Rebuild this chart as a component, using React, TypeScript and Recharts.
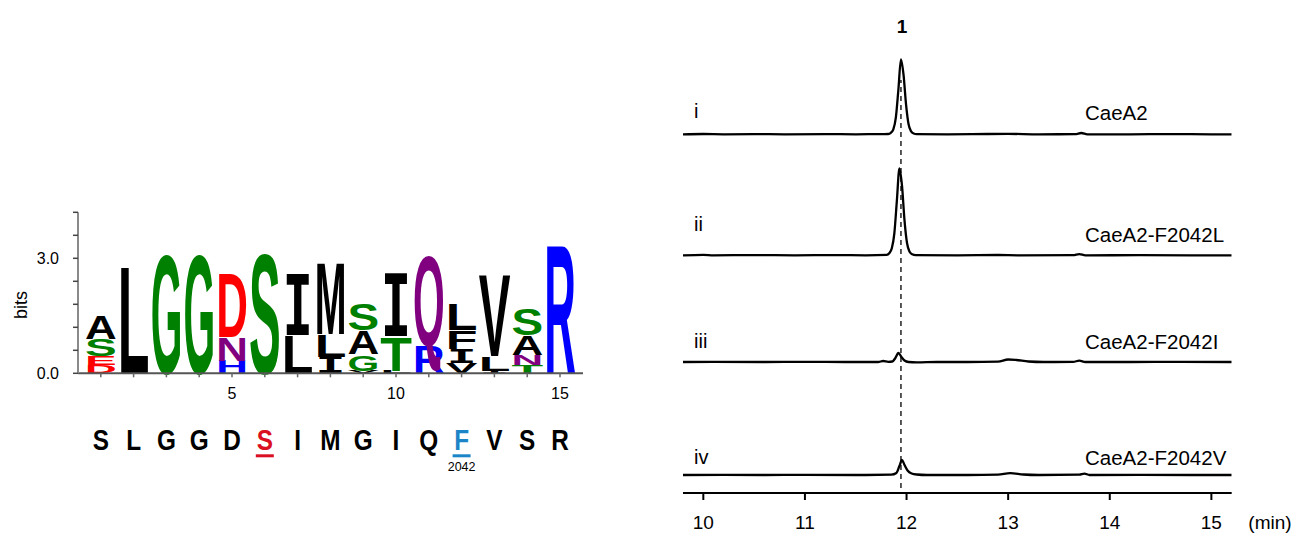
import React from 'react';
import { BarChart, Bar, XAxis, YAxis, LineChart, Line, ReferenceLine, Label } from 'recharts';

const FONT = '"Liberation Sans", Arial, Helvetica, sans-serif';

// ---------- Sequence logo data ----------
const logoPositions = [1, 2, 3, 4, 5, 6, 7, 8, 9, 10, 11, 12, 13, 14, 15];
// letters bottom -> top
const logoLetters: string[][] = [
  ['D', 'E', 'S', 'A'],
  ['L'],
  ['G'],
  ['G'],
  ['H', 'N', 'D'],
  ['S'],
  ['L', 'I'],
  ['I', 'L', 'M'],
  ['V', 'G', 'A', 'S'],
  ['L', 'T', 'I'],
  ['R', 'Q'],
  ['V', 'I', 'F', 'L'],
  ['I', 'L', 'V'],
  ['T', 'N', 'A', 'S'],
  ['R'],
];
// heights in bits, bottom -> top
const logoBits: number[][] = [
  [0.22, 0.24, 0.44, 0.64],
  [2.85],
  [3.17],
  [3.17],
  [0.33, 0.61, 1.72],
  [3.22],
  [1.0, 1.57],
  [0.43, 0.6, 1.93],
  [0.07, 0.43, 0.62, 0.7],
  [0.07, 0.91, 1.6],
  [0.72, 2.4],
  [0.26, 0.37, 0.5, 0.7],
  [0.07, 0.37, 2.2],
  [0.22, 0.26, 0.52, 0.7],
  [3.46],
];
const bitTicks = [0, 0.6, 1.2, 1.8, 2.4, 3.0, 3.6, 4.2];
const labeledBitTicks = [0, 3];
const labeledPositions = [5, 10, 15];
const sequence = ['S', 'L', 'G', 'G', 'D', 'S', 'I', 'M', 'G', 'I', 'Q', 'F', 'V', 'S', 'R'];
const highlightedPositions = [6, 12];
const positionNotes: Record<number, string> = { 12: '2042' };

const residueColors: Record<string, string> = {
  G: '#008000', S: '#008000', T: '#008000', Y: '#008000', C: '#008000',
  D: '#ff0000', E: '#ff0000',
  H: '#0000ff', K: '#0000ff', R: '#0000ff',
  N: '#800080', Q: '#800080',
};
const highlightColors: Record<number, string> = { 6: '#da0f22', 12: '#1b85c8' };

// ---------- Chromatogram data ----------
const timeTicks = [10, 11, 12, 13, 14, 15];
const traceI: [number, number][] = [
  [9.8, 0], [10.0, 0.3], [10.2, 0], [10.5, 0.2], [10.8, 0], [11.2, 0.2], [11.5, 0], [11.7, 0.2],
  [11.82, 0.3], [11.845, 1.5], [11.87, 5], [11.895, 17], [11.92, 45], [11.945, 75], [11.97, 60],
  [11.995, 30], [12.02, 10], [12.045, 3], [12.07, 0.8], [12.1, 0.2], [12.4, 0], [12.8, 0.3],
  [13.0, 0.4], [13.3, 0], [13.66, 0.1], [13.72, 1.3], [13.78, 0], [14.2, 0], [14.6, 0.2], [15.0, 0], [15.2, 0],
];
const traceII: [number, number][] = [
  [9.8, 0], [10.0, 0.5], [10.1, 0], [10.5, 0.2], [10.9, 0], [11.3, 0.2], [11.6, 0],
  [11.805, 0.4], [11.83, 2], [11.855, 7], [11.88, 22], [11.905, 55], [11.93, 87], [11.955, 70],
  [11.98, 35], [12.005, 12], [12.03, 3.5], [12.055, 1], [12.09, 0.2], [12.5, 0], [12.9, 0.3],
  [13.1, 0], [13.64, 0.1], [13.7, 1.2], [13.76, 0], [14.3, 0.1], [14.8, 0], [15.2, 0],
];
const traceIII: [number, number][] = [
  [9.8, 0], [10.1, 0.2], [10.6, 0], [11.0, 0.2], [11.4, 0], [11.72, 0], [11.77, 1], [11.82, 0.2],
  [11.86, 0.5], [11.89, 4], [11.92, 9], [11.95, 5], [11.98, 1.5], [12.02, 0], [12.1, -0.4],
  [12.3, 0], [12.6, 0], [12.9, 0.3], [13.0, 2.5], [13.08, 2], [13.2, 0.5], [13.35, 0],
  [13.64, 0.2], [13.7, 1.3], [13.76, 0], [14.2, 0], [14.7, 0.1], [15.2, 0],
];
const traceIV: [number, number][] = [
  [9.8, 0], [10.2, 0.2], [10.6, 0], [11.0, 0.2], [11.5, 0], [11.85, 0.3], [11.9, 2], [11.93, 9],
  [11.955, 15], [11.98, 10], [12.01, 4.5], [12.05, 1.5], [12.1, 0.5], [12.2, 0], [12.6, 0],
  [12.9, 0.3], [13.02, 1.8], [13.15, 0.5], [13.3, 0], [13.7, 0.3], [13.75, 1.4], [13.8, 0],
  [14.3, 0.1], [14.8, 0], [15.2, 0],
];
const traces = [traceI, traceII, traceIII, traceIV];
const traceNumerals = ['i', 'ii', 'iii', 'iv'];
const traceNames = ['CaeA2', 'CaeA2-F2042L', 'CaeA2-F2042I', 'CaeA2-F2042V'];
const peakTime = 11.945;
const peakName = '1';
const timeUnit = '(min)';

// ---------- Layout (not data) ----------
const PLOT_H = 473; // right chart plot height in px units
const TRACE_BASE = [358.7, 237.7, 131, 18]; // px above the time axis
const NUMERAL_Y = [111, 224, 341, 457];
const NAME_Y = [112, 234, 341, 457];

const logoRows = logoPositions.map((pos, i) => {
  const row: any = { pos };
  for (let k = 0; k < 4; k++) row['h' + k] = logoBits[i][k] ?? 0;
  return row;
});

function makeLetterShape(layer: number) {
  return (props: any) => {
    const { x, y, width, height, payload } = props;
    const idx = payload ? payload.pos - 1 : props.index;
    const letter = logoLetters[idx] ? logoLetters[idx][layer] : undefined;
    if (!letter || !height || height <= 0.2) return <g />;
    const w = width - 2.5;
    const sy = height / 72;
    const isI = letter === 'I';
    const fam = isI ? '"DejaVu Sans Mono", monospace' : FONT;
    const stretch = isI ? 1.0 : 1.04;
    const tl = w * stretch;
    const x0 = x + 1.25 - (tl - w) / 2;
    return (
      <g transform={`translate(${x0},${y + height}) scale(1,${sy})`}>
        <text
          x={0}
          y={0}
          fontSize={100}
          fontFamily={fam}
          fontWeight="bold"
          fill={residueColors[letter] || '#000'}
          textLength={tl}
          lengthAdjust="spacingAndGlyphs"
        >
          {letter}
        </text>
      </g>
    );
  };
}

const PositionTick = (props: any) => {
  const { x, y, payload } = props;
  const pos = payload.value as number;
  const seq = sequence[pos - 1];
  const hi = highlightedPositions.includes(pos);
  const color = hi ? highlightColors[pos] : '#000';
  return (
    <g>
      {labeledPositions.includes(pos) && (
        <text x={x} y={y + 20} textAnchor="middle" fontSize={16} fontFamily={FONT} fill="#000">
          {pos}
        </text>
      )}
      <g transform={`translate(${x},${y + 71}) scale(0.84,1)`}>
        <text x={0} y={0} textAnchor="middle" fontSize={29} fontWeight="bold" fontFamily={FONT} fill={color}>
          {seq}
        </text>
      </g>
      {hi && <rect x={x - 9} y={y + 75} width={18} height={3} fill={color} />}
      {positionNotes[pos] && (
        <text x={x} y={y + 92} textAnchor="middle" fontSize={12.5} fontFamily={FONT} fill="#000">
          {positionNotes[pos]}
        </text>
      )}
    </g>
  );
};

const TimeTick = (props: any) => {
  const { x, y, payload } = props;
  return (
    <text x={x} y={y + 27} textAnchor="middle" fontSize={19} fontFamily={FONT} fill="#000">
      {payload.value}
    </text>
  );
};

export default function App() {
  return (
    <div style={{ position: 'absolute', left: 0, top: 0, width: 1308, height: 538, background: '#fff', overflow: 'hidden' }}>
      {/* Sequence logo */}
      <div style={{ position: 'absolute', left: 0, top: 0 }}>
        <BarChart
          width={600}
          height={480}
          data={logoRows}
          margin={{ top: 212.3, right: 17, left: 18, bottom: 76.7 }}
          barCategoryGap={0}
          barGap={0}
        >
          <XAxis
            dataKey="pos"
            type="category"
            padding={{ left: 6.4, right: 6.6 }}
            height={30}
            tickSize={4}
            tickMargin={2}
            interval={0}
            axisLine={{ stroke: '#555', strokeWidth: 2 }}
            tickLine={{ stroke: '#666', strokeWidth: 1.5 }}
            tick={<PositionTick />}
          />
          <YAxis
            type="number"
            domain={[0, 4.2]}
            ticks={bitTicks}
            width={60}
            tickSize={5}
            tickMargin={14}
            interval={0}
            axisLine={{ stroke: '#8a8a8a', strokeWidth: 2 }}
            tickLine={{ stroke: '#444', strokeWidth: 1.5 }}
            tick={{ fill: '#000', fontSize: 16, fontFamily: FONT }}
            tickFormatter={(v: number) => (labeledBitTicks.some((t) => Math.abs(t - v) < 1e-6) ? v.toFixed(1) : '')}
          >
            <Label
              content={() => (
                <text
                  x={21}
                  y={305}
                  transform="rotate(-90 21 305)"
                  textAnchor="middle"
                  dominantBaseline="central"
                  fontSize={18}
                  fontFamily={FONT}
                  fill="#000"
                >
                  bits
                </text>
              )}
            />
          </YAxis>
          {[0, 1, 2, 3].map((k) => (
            <Bar key={k} dataKey={'h' + k} stackId="logo" shape={makeLetterShape(k)} isAnimationActive={false} />
          ))}
        </BarChart>
      </div>

      {/* Chromatograms */}
      <div style={{ position: 'absolute', left: 640, top: 0 }}>
        <LineChart width={668} height={538} margin={{ top: 20, right: 76.3, left: 43, bottom: 15 }}>
          <XAxis
            type="number"
            dataKey="t"
            domain={[9.8, 15.2]}
            ticks={timeTicks}
            allowDataOverflow
            height={30}
            tickSize={7}
            tickMargin={2}
            axisLine={{ stroke: '#000', strokeWidth: 2 }}
            tickLine={{ stroke: '#000', strokeWidth: 2 }}
            tick={<TimeTick />}
          >
            <Label
              content={() => (
                <text x={630} y={529} textAnchor="middle" fontSize={19} fontFamily={FONT} fill="#000">
                  {timeUnit}
                </text>
              )}
            />
          </XAxis>
          <YAxis yAxisId="frame" type="number" domain={[0, PLOT_H]} hide allowDataOverflow />
          {traces.map((_, k) => (
            <YAxis
              key={k}
              yAxisId={'y' + k}
              type="number"
              domain={[-TRACE_BASE[k], PLOT_H - TRACE_BASE[k]]}
              hide
              allowDataOverflow
            />
          ))}
          <ReferenceLine
            yAxisId="frame"
            segment={[{ x: peakTime, y: 5 }, { x: peakTime, y: 413 }]}
            stroke="#000"
            strokeWidth={1.3}
            strokeDasharray="5 4"
            ifOverflow="visible"
          />
          {traces.map((tr, k) => (
            <Line
              key={k}
              yAxisId={'y' + k}
              data={tr.map(([t, v]) => ({ t, v }))}
              dataKey="v"
              type="monotone"
              stroke="#000"
              strokeWidth={2.3}
              dot={false}
              activeDot={false}
              isAnimationActive={false}
            />
          ))}
        </LineChart>
      </div>

      {/* Annotations */}
      <svg width={1308} height={538} style={{ position: 'absolute', left: 0, top: 0, pointerEvents: 'none' }}>
        <text x={902} y={26} textAnchor="middle" dominantBaseline="central" fontSize={19} fontWeight="bold" fontFamily={FONT}>
          {peakName}
        </text>
        {traceNumerals.map((n, k) => (
          <text key={'n' + k} x={694} y={NUMERAL_Y[k]} dominantBaseline="central" fontSize={20} fontFamily={FONT}>
            {n}
          </text>
        ))}
        {traceNames.map((n, k) => (
          <text key={'m' + k} x={1085} y={NAME_Y[k]} dominantBaseline="central" fontSize={20.5} fontFamily={FONT}>
            {n}
          </text>
        ))}
      </svg>
    </div>
  );
}
